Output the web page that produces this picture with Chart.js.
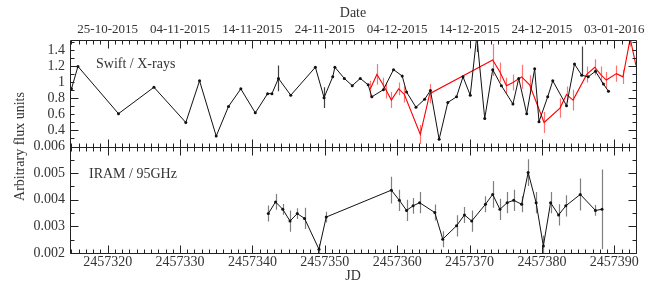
<!DOCTYPE html>
<html>
<head>
<meta charset="utf-8">
<script src="https://cdn.jsdelivr.net/npm/chart.js@4.4.0/dist/chart.umd.min.js"></script>
<style>
html, body { margin: 0; padding: 0; background: #fff; }
#wrap { width: 652px; height: 287px; }
</style>
</head>
<body>
<div id="wrap"><canvas id="myChart" width="652" height="287"></canvas></div>
<script>
// Swift / X-rays (black)
var xrayJD = [2457315.0, 2457315.9, 2457321.5, 2457326.4, 2457330.8, 2457332.7, 2457335.0, 2457336.7, 2457338.4, 2457340.4,
    2457342.1, 2457342.7, 2457343.6, 2457345.3, 2457348.7, 2457349.9, 2457351.1, 2457351.4, 2457352.7, 2457353.8,
    2457354.9, 2457356.0, 2457356.5, 2457358.1, 2457359.5, 2457360.7, 2457361.3, 2457362.6, 2457363.8, 2457364.6,
    2457365.8, 2457367.0, 2457368.2, 2457369.1, 2457370.1, 2457371.0, 2457372.1, 2457373.2, 2457374.4, 2457376.0,
    2457376.8, 2457377.9, 2457379.0, 2457379.6, 2457380.8, 2457381.5, 2457383.4, 2457384.5, 2457385.5, 2457386.4,
    2457387.4, 2457388.5, 2457389.2];
var xrayFlux = [0.92, 1.20, 0.61, 0.94, 0.50, 1.02, 0.33, 0.70, 0.92, 0.62,
    0.86, 0.86, 1.05, 0.84, 1.19, 0.81, 1.07, 1.19, 1.05, 0.96,
    1.05, 0.97, 0.82, 0.91, 1.16, 1.08, 0.88, 0.69, 0.79, 0.90,
    0.29, 0.75, 0.82, 1.07, 0.84, 1.58, 0.55, 1.16, 0.96, 0.73,
    1.05, 0.61, 1.17, 0.51, 0.82, 1.02, 0.71, 1.23, 1.09, 1.07,
    1.14, 0.98, 0.89];
// error bars: [minus, plus], 0 = too small to see
var xrayErr = [0, 0, 0, 0, 0, 0, 0, 0, 0, 0,
    0, 0, [0.16, 0.16], 0, 0, [0.13, 0.13], 0, 0, 0, 0,
    0, 0, 0, 0, 0, 0, 0, 0, 0, 0,
    0, 0, 0, 0, 0, [0.2, 0.2], 0, 0, 0, 0,
    0, 0, 0, 0, 0, 0, 0, 0, [0, 0.36], 0,
    0, 0, 0];

// second X-ray series (red)
var redJD = [2457356.3, 2457357.2, 2457358.0, 2457358.5, 2457359.2, 2457360.2, 2457361.0, 2457363.2, 2457364.5, 2457373.2,
    2457374.2, 2457375.1, 2457376.0, 2457377.2, 2457378.3, 2457380.3, 2457382.5, 2457383.4, 2457384.3, 2457386.2,
    2457387.3, 2457388.1, 2457388.9, 2457390.3, 2457391.2, 2457392.2, 2457393.0];
var redFlux = [0.92, 1.10, 0.98, 0.90, 0.78, 0.92, 0.85, 0.35, 0.86, 1.28,
    1.13, 0.96, 1.00, 1.07, 0.97, 0.50, 0.68, 0.85, 0.78, 1.10,
    1.19, 1.10, 1.03, 1.11, 1.07, 1.55, 1.21];
var redErr = [0.10, 0.13, 0.08, 0.10, 0.10, 0.08, 0.10, 0.12, 0.12, 0.20,
    0.12, 0.10, 0.10, 0.15, 0.12, 0.13, 0.12, 0.10, 0.13, 0.10,
    0.10, 0.10, 0.10, 0.10, 0.09, 0.10, 0.10];

// IRAM / 95GHz
var iramJD = [2457342.2, 2457343.2, 2457344.2, 2457345.2, 2457346.2, 2457347.2, 2457349.2, 2457350.2, 2457359.2, 2457360.3,
    2457361.3, 2457362.2, 2457363.1, 2457365.2, 2457366.3, 2457368.2, 2457369.3, 2457370.3, 2457372.2, 2457373.2,
    2457374.2, 2457375.2, 2457376.1, 2457377.2, 2457378.1, 2457379.2, 2457380.2, 2457381.2, 2457382.3, 2457383.3,
    2457385.3, 2457387.4, 2457388.3];
var iramFlux = [0.00348, 0.00392, 0.00364, 0.00320, 0.00348, 0.00330, 0.00214, 0.00335, 0.00436, 0.00398,
    0.00360, 0.00377, 0.00389, 0.00352, 0.00252, 0.00302, 0.00343, 0.00320, 0.00383, 0.00420,
    0.00364, 0.00389, 0.00398, 0.00383, 0.00502, 0.00389, 0.00226, 0.00389, 0.00343, 0.00377,
    0.00420, 0.00360, 0.00364];
var iramErr = [0.0003, 0.0003, 0.0002, 0.0004, 0.0002, 0.0004, 0.0002, 0.0002, 0.0005, 0.0004,
    0.0004, 0.0003, 0.0004, 0.0003, 0.0003, 0.0004, 0.0003, 0.0004, 0.0003, 0.0005,
    0.0004, 0.0004, 0.0004, 0.0003, 0.0005, 0.0004, 0.0004, 0.0004, 0.0004, 0.0004,
    0.0006, 0.0002, 0.0015];

var jdTicks = [2457320, 2457330, 2457340, 2457350, 2457360, 2457370, 2457380, 2457390];
var dateLabels = ["25-10-2015", "04-11-2015", "14-11-2015", "24-11-2015", "04-12-2015", "14-12-2015", "24-12-2015", "03-01-2016"];
var topTicks = [0.4, 0.6, 0.8, 1, 1.2, 1.4];
var topTickLabels = ["0.4", "0.6", "0.8", "1", "1.2", "1.4"];
var botTicks = [0.002, 0.003, 0.004, 0.005, 0.006];
var botTickLabels = ["0.002", "0.003", "0.004", "0.005", "0.006"];

function toPoints(xs, ys) {
    var out = [];
    for (var i = 0; i < xs.length; i++) out.push({x: xs[i], y: ys[i]});
    return out;
}

var serif = "'Liberation Serif', 'DejaVu Serif', serif";
Chart.defaults.font.family = serif;
Chart.defaults.color = "#333";

function errorBars(chart, dsIndex, errs, color) {
    var meta = chart.getDatasetMeta(dsIndex);
    var ys = chart.scales[meta.yAxisID];
    var xs = chart.scales.x;
    var data = chart.data.datasets[dsIndex].data;
    var ctx = chart.ctx;
    var a = chart.chartArea;
    ctx.save();
    ctx.beginPath();
    ctx.rect(a.left, ys.top, a.right - a.left, ys.bottom - ys.top);
    ctx.clip();
    ctx.strokeStyle = color;
    ctx.lineWidth = 1.2;
    ctx.beginPath();
    for (var i = 0; i < data.length; i++) {
        var e = errs[i];
        if (!e) continue;
        var lo = Array.isArray(e) ? data[i].y - e[0] : data[i].y - e;
        var hi = Array.isArray(e) ? data[i].y + e[1] : data[i].y + e;
        var px = Math.round(xs.getPixelForValue(data[i].x)) + 0.5;
        ctx.moveTo(px, ys.getPixelForValue(lo));
        ctx.lineTo(px, ys.getPixelForValue(hi));
    }
    ctx.stroke();
    ctx.restore();
}

var framePlugin = {
    id: "frame",
    beforeDatasetsDraw: function (chart) {
        errorBars(chart, 0, xrayErr, "rgba(0,0,0,0.75)");
        errorBars(chart, 1, redErr, "rgba(255,0,0,0.55)");
        errorBars(chart, 2, iramErr, "rgba(0,0,0,0.5)");
    },
    afterDraw: function (chart) {
        var ctx = chart.ctx;
        var a = chart.chartArea;
        var x = chart.scales.x, yt = chart.scales.yTop, yb = chart.scales.yBot;
        var mid = Math.round(yt.bottom) + 0.5;
        var L = Math.round(a.left) + 0.5, R = Math.round(a.right) + 0.5;
        var T = Math.round(a.top) + 0.5, B = Math.round(a.bottom) + 0.5;
        ctx.save();
        ctx.strokeStyle = "#222";
        ctx.lineWidth = 1;
        ctx.beginPath();
        ctx.rect(L, T, R - L, B - T);
        ctx.moveTo(L, mid);
        ctx.lineTo(R, mid);
        // x ticks, one per day, long every 10 days
        for (var d = Math.ceil(x.min); d <= Math.floor(x.max); d++) {
            var px = Math.round(x.getPixelForValue(d)) + 0.5;
            var len = (d % 10 === 0) ? 8 : 4;
            ctx.moveTo(px, T); ctx.lineTo(px, T + len);
            ctx.moveTo(px, mid - len); ctx.lineTo(px, mid + len);
            ctx.moveTo(px, B); ctx.lineTo(px, B - len);
        }
        // top panel y ticks
        for (var k = 2; k <= 15; k++) {
            var py = Math.round(yt.getPixelForValue(k / 10)) + 0.5;
            var l2 = (k % 4 === 0) ? 8 : 4;
            ctx.moveTo(L, py); ctx.lineTo(L + l2, py);
            ctx.moveTo(R, py); ctx.lineTo(R - l2, py);
        }
        // bottom panel y ticks
        for (var m = 20; m <= 60; m += 5) {
            var py2 = Math.round(yb.getPixelForValue(m / 10000)) + 0.5;
            var l3 = (m % 10 === 0) ? 8 : 4;
            ctx.moveTo(L, py2); ctx.lineTo(L + l3, py2);
            ctx.moveTo(R, py2); ctx.lineTo(R - l3, py2);
        }
        ctx.stroke();

        ctx.fillStyle = "#333";
        ctx.font = "14px " + serif;
        ctx.textBaseline = "middle";
        ctx.textAlign = "left";
        ctx.fillText("Swift / X-rays", a.left + 26, yt.top + 24);
        ctx.fillText("IRAM / 95GHz", a.left + 19, yb.top + 28);

        ctx.translate(20, (yt.top + yb.bottom) / 2);
        ctx.rotate(-Math.PI / 2);
        ctx.textAlign = "center";
        ctx.fillText("Arbitrary flux units", 0, 0);
        ctx.restore();
    }
};

var myChart = document.getElementById("myChart").getContext("2d");
var fluxChart = new Chart(myChart, {
    type: "line",
    data: {
        datasets: [{
            label: "Swift / X-rays",
            data: toPoints(xrayJD, xrayFlux),
            yAxisID: "yTop",
            borderColor: "#111",
            backgroundColor: "#111",
            borderWidth: 1,
            pointRadius: 1.5,
            pointBorderWidth: 0,
            tension: 0
        }, {
            label: "X-rays (red)",
            data: toPoints(redJD, redFlux),
            yAxisID: "yTop",
            borderColor: "#ff0000",
            backgroundColor: "#ff0000",
            borderWidth: 1.1,
            pointRadius: 0,
            tension: 0
        }, {
            label: "IRAM / 95GHz",
            data: toPoints(iramJD, iramFlux),
            yAxisID: "yBot",
            borderColor: "#111",
            backgroundColor: "#111",
            borderWidth: 1,
            pointRadius: 1.5,
            pointBorderWidth: 0,
            tension: 0
        }]
    },
    options: {
        responsive: false,
        animation: false,
        devicePixelRatio: 1,
        layout: { padding: { left: 0, right: 16, top: 0, bottom: 0 } },
        plugins: {
            legend: { display: false },
            tooltip: { enabled: false }
        },
        scales: {
            x: {
                type: "linear",
                position: "bottom",
                min: 2457314.8,
                max: 2457393,
                grid: { display: false, drawTicks: false },
                border: { display: false },
                afterBuildTicks: function (axis) {
                    axis.ticks = jdTicks.map(function (v) { return {value: v}; });
                },
                afterFit: function (scale) { scale.height = 34; },
                ticks: {
                    autoSkip: false,
                    maxRotation: 0,
                    padding: 1,
                    font: { size: 14 },
                    callback: function (value) { return String(value); }
                },
                title: { display: true, text: "JD", font: { size: 14 }, padding: { top: 0, bottom: 2 } }
            },
            x2: {
                type: "linear",
                position: "top",
                min: 2457314.8,
                max: 2457393,
                grid: { display: false, drawTicks: false },
                border: { display: false },
                afterBuildTicks: function (axis) {
                    axis.ticks = jdTicks.map(function (v) { return {value: v}; });
                },
                afterFit: function (scale) { scale.height = 40; },
                ticks: {
                    autoSkip: false,
                    maxRotation: 0,
                    padding: 3,
                    font: { size: 13 },
                    callback: function (value, index) { return dateLabels[index]; }
                },
                title: { display: true, text: "Date", font: { size: 14 }, padding: { top: 5, bottom: 0 } }
            },
            yTop: {
                type: "linear",
                position: "left",
                stack: "flux",
                stackWeight: 1,
                weight: 2,
                min: 0.2,
                max: 1.53,
                grid: { display: false, drawTicks: false },
                border: { display: false },
                afterBuildTicks: function (axis) {
                    axis.ticks = topTicks.map(function (v) { return {value: v}; });
                },
                afterFit: function (scale) { scale.width = 70; },
                ticks: {
                    autoSkip: false,
                    padding: 5,
                    font: { size: 14 },
                    callback: function (value, index) { return topTickLabels[index]; }
                }
            },
            yBot: {
                type: "linear",
                position: "left",
                stack: "flux",
                stackWeight: 1,
                weight: 1,
                min: 0.002,
                max: 0.006,
                grid: { display: false, drawTicks: false },
                border: { display: false },
                afterBuildTicks: function (axis) {
                    axis.ticks = botTicks.map(function (v) { return {value: v}; });
                },
                afterFit: function (scale) { scale.width = 70; },
                ticks: {
                    autoSkip: false,
                    padding: 5,
                    font: { size: 14 },
                    callback: function (value, index) { return botTickLabels[index]; }
                }
            }
        }
    },
    plugins: [framePlugin]
});
</script>
</body>
</html>
